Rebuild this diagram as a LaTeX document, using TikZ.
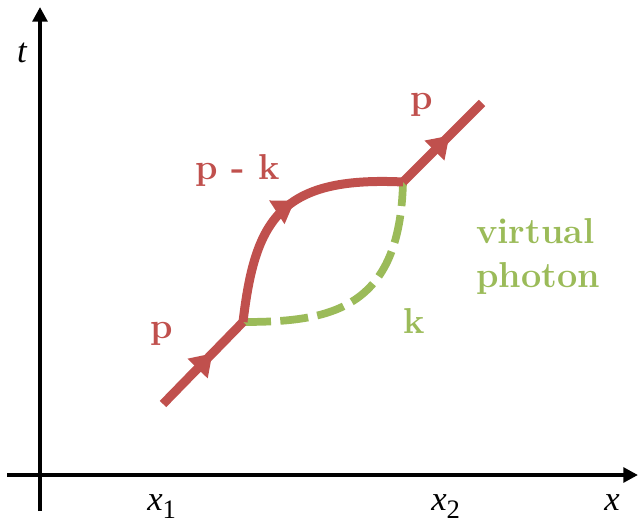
\documentclass[tikz,border=0pt]{standalone}
\usepackage{fontspec}
\newfontfamily\axfont{Liberation Serif}
\usetikzlibrary{arrows.meta,decorations.markings}
\definecolor{fred}{HTML}{C0504D}
\definecolor{fgreen}{HTML}{9BBB59}
\begin{document}
\begin{tikzpicture}[x=0.75pt,y=-0.75pt,
  axisline/.style={line width=3pt,black,-{Triangle[length=11pt,width=11pt]}},
  fermion/.style={line width=6.75pt,fred},
  photonline/.style={line width=5.8pt,fgreen,dash pattern=on 21pt off 7pt},
  midarrow/.style={postaction={decorate},decoration={markings,
     mark=at position #1 with {\arrow{Triangle[length=16pt,width=20pt]}}}},
  axislabel/.style={inner sep=0pt,font=\axfont\fontsize{26}{26}\selectfont\itshape},
  redlabel/.style={inner sep=0pt,text=fred,font=\fontsize{27}{33}\selectfont\bfseries},
  greenlabel/.style={inner sep=0pt,text=fgreen,font=\fontsize{27}{33}\selectfont\bfseries}]
\useasboundingbox (0,0) rectangle (639,524);
% axes
\coordinate (ybot) at (40,511);
\coordinate (ytop) at (40,7);
\coordinate (xleft) at (7,475);
\coordinate (xright) at (638,475);
\draw[axisline] (ybot) -- (ytop);
\draw[axisline] (xleft) -- (xright);
\node[axislabel,anchor=base] (tl) at (22,63) {t};
\node[axislabel,anchor=base west] (x1) at (147,510) {x{\upshape\fontsize{20}{20}\selectfont\raisebox{-6pt}{1}}};
\node[axislabel,anchor=base west] (x2) at (431,510) {x{\upshape\fontsize{20}{20}\selectfont\raisebox{-6pt}{2}}};
\node[axislabel,anchor=base west] (xl) at (604,510) {x};
% diagram points
\coordinate (A) at (163,404);
\coordinate (V1) at (243,322);
\coordinate (V2) at (403,182);
\coordinate (B) at (482,103);
% virtual photon
\draw[photonline] (V1) .. controls (330,322) and (400,310) .. (V2);
% fermion lines
\draw[fermion,midarrow=0.62] (A) -- (V1);
\draw[fermion,midarrow=0.55] (V1) .. controls (255,220) and (280,176) .. (V2);
\draw[fermion,midarrow=0.59] (V2) -- (B);
% labels
\node[redlabel,anchor=base] (p1) at (162,338) {p};
\node[redlabel,anchor=base] (pk) at (238,180) {p - k};
\node[redlabel,anchor=base] (p2) at (422,110) {p};
\node[greenlabel,anchor=base] (k) at (414,333) {k};
\node[greenlabel,anchor=north west,align=left] (vp) at (476,218) {virtual\\photon};
\end{tikzpicture}
\end{document}
